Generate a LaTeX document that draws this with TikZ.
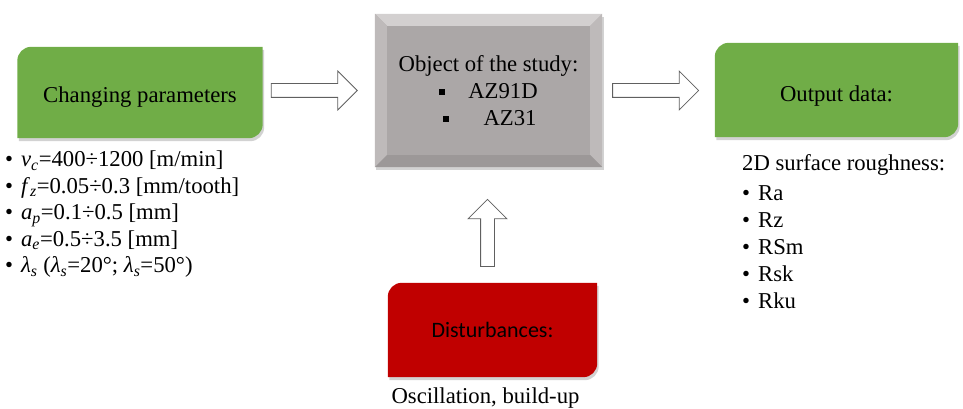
\documentclass[tikz,border=0pt]{standalone}
\usepackage{fontspec}
\setmainfont{Liberation Serif}
\newfontfamily\calibrifont{Carlito}
\usepackage{tikz}
\usetikzlibrary{positioning, shapes.arrows, backgrounds}
\definecolor{leafgreen}{HTML}{70AD47}
\definecolor{darkred}{HTML}{C00000}
\definecolor{bevelmid}{HTML}{ABA7A7}
\definecolor{beveltop}{HTML}{D3D0D0}
\definecolor{bevelside}{HTML}{BEBABA}
\definecolor{bevelbot}{HTML}{9C9898}
\newcommand{\sqbullet}{\rule[3pt]{6pt}{6pt}}

\begin{document}
\begin{tikzpicture}[x=1pt, y=-1pt, every node/.style={font=\fontsize{22.7}{27}\selectfont, inner sep=0pt},
  blockarrow/.style={single arrow, draw=gray!75!black, fill=white, line width=0.8pt,
    minimum height=86pt, inner sep=6.5pt, single arrow head extend=12.5pt, single arrow head indent=0pt}]
  \useasboundingbox (0,0) rectangle (963,409);
  % boxes
  \node[minimum width=245pt, minimum height=91pt] (param) at (140,92.5) {\raisebox{-5pt}[\height][\depth]{Changing parameters}};
  \node[minimum width=227pt, minimum height=153pt, align=center] (object) at (488.5,90.5)
    {Object of the study:\\ \sqbullet\hspace{23pt}AZ91D\\ \hspace{2pt}\sqbullet\hspace{35pt}AZ31};
  \node[minimum width=243pt, minimum height=94pt] (outdata) at (836.5,90) {\raisebox{-6pt}[\height][\depth]{Output data:}};
  \node[minimum width=209pt, minimum height=94pt, font=\calibrifont\fontsize{22}{27}\selectfont] (dist) at (492.5,330) {Disturbances:};
  % lists
  \node[anchor=north west, align=left, font=\fontsize{22.7}{26.5}\selectfont] (plist) at (5,151)
    {\textbullet\hspace{8pt}\textit{v}\textsubscript{\textit{c}}=400÷1200 [m/min]\\
     \textbullet\hspace{8pt}\textit{f}\textsubscript{\textit{z}}=0.05÷0.3 [mm/tooth]\\
     \textbullet\hspace{8pt}\textit{a}\textsubscript{\textit{p}}=0.1÷0.5 [mm]\\
     \textbullet\hspace{8pt}\textit{a}\textsubscript{\textit{e}}=0.5÷3.5 [mm]\\
     \textbullet\hspace{8pt}\textit{λ}\textsubscript{\textit{s}} (\textit{λ}\textsubscript{\textit{s}}=20°; \textit{λ}\textsubscript{\textit{s}}=50°)};
  \node[anchor=north west, align=left] (olist) at (742,154)
    {2D surface roughness:\\[3pt]
     \textbullet\hspace{8pt}Ra\\ \textbullet\hspace{8pt}Rz\\ \textbullet\hspace{8pt}RSm\\
     \textbullet\hspace{8pt}Rsk\\ \textbullet\hspace{8pt}Rku};
  \node[below=10pt of dist, xshift=-7pt] (osc) {Oscillation, build-up};
  % block arrows
  \node[blockarrow, anchor=tip] (arrA) at ([xshift=-17pt]object.west) {};
  \node[blockarrow, anchor=tail] (arrB) at ([xshift=10pt]object.east) {};
  \node[blockarrow, shape border rotate=90, minimum height=67pt, anchor=tail] (arrC) at ([xshift=-5pt, yshift=16pt]dist.north) {};
  % fills
  \begin{scope}[on background layer]
    \foreach \n/\c in {param/leafgreen, outdata/leafgreen, dist/darkred} {
      \fill[black!35, opacity=0.5, transform canvas={shift={(1.5pt,-3pt)}}]
        (\n.south west) -- ([yshift=-14pt]\n.north west) arc[start angle=180, end angle=90, radius=14pt]
        -- (\n.north east) -- ([yshift=14pt]\n.south east) arc[start angle=0, end angle=-90, radius=14pt] -- cycle;
      \fill[\c]
        (\n.south west) -- ([yshift=-14pt]\n.north west) arc[start angle=180, end angle=90, radius=14pt]
        -- (\n.north east) -- ([yshift=14pt]\n.south east) arc[start angle=0, end angle=-90, radius=14pt] -- cycle;
    }
    \fill[black!35, opacity=0.5, transform canvas={shift={(1.5pt,-3pt)}}] (object.south west) rectangle (object.north east);
    \fill[bevelmid] (object.south west) rectangle (object.north east);
    \fill[beveltop] (object.north west) -- (object.north east) -- ([shift={(-12pt,-12pt)}]object.north east)
      -- ([shift={(12pt,-12pt)}]object.north west) -- cycle;
    \fill[bevelside] (object.north west) -- (object.south west) -- ([shift={(12pt,12pt)}]object.south west)
      -- ([shift={(12pt,-12pt)}]object.north west) -- cycle;
    \fill[bevelside] (object.north east) -- (object.south east) -- ([shift={(-12pt,12pt)}]object.south east)
      -- ([shift={(-12pt,-12pt)}]object.north east) -- cycle;
    \fill[bevelbot] (object.south west) -- (object.south east) -- ([shift={(-12pt,12pt)}]object.south east)
      -- ([shift={(12pt,12pt)}]object.south west) -- cycle;
  \end{scope}
\end{tikzpicture}
\end{document}
